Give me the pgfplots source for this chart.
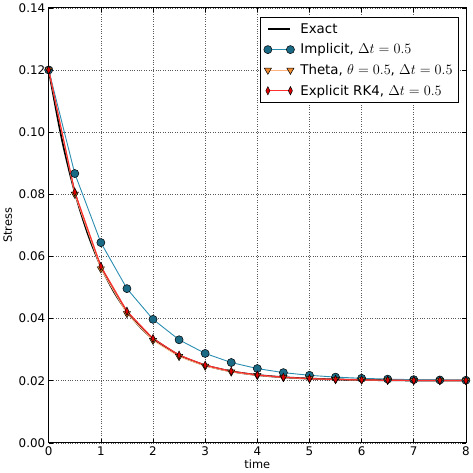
\documentclass[border=0pt]{standalone}
\usepackage{pgfplots}
\pgfplotsset{compat=1.18}
\usepackage{fontspec}
\setmainfont{DejaVu Sans}
\definecolor{impface}{HTML}{1A6985}
\definecolor{impline}{HTML}{2A8DB0}
\definecolor{thface}{HTML}{F0892E}
\definecolor{thline}{HTML}{FFB380}
\definecolor{rkface}{HTML}{E00000}
\definecolor{rkline}{HTML}{FF3030}
\begin{document}
\begin{tikzpicture}
\begin{axis}[
  scale only axis,
  width=421pt, height=439pt,
  xmin=0, xmax=8, ymin=0, ymax=0.14,
  xtick={0,1,...,8},
  ytick={0,0.02,0.04,0.06,0.08,0.10,0.12,0.14},
  yticklabel style={/pgf/number format/.cd,fixed,fixed zerofill,precision=2},
  /pgf/number format/assume math mode=true,
  tick label style={font=\fontsize{12}{14}\selectfont},
  label style={font=\fontsize{11.5}{13}\selectfont},
  xlabel={time}, ylabel={Stress},
  xlabel style={yshift=2pt},
  ylabel style={yshift=0pt},
  grid=major,
  grid style={dotted, gray!70!black, line width=0.6pt},
  tick align=inside,
  major tick length=4pt,
  tick style={black, line width=0.6pt},
  axis line style={line width=0.8pt},
  legend style={font=\fontsize{13.5}{16}\selectfont, draw=black, line width=0.6pt, inner sep=4pt, row sep=5pt, at={(0.983,0.978)}, anchor=north east},
  legend cell align=left,
  legend image code/.code={\draw[#1] plot coordinates {(0cm,0cm) (0.8cm,0cm)}; \path (-0.1cm,0cm) (1.05cm,0cm);},
]
\addplot[black, line width=1.8pt, smooth] coordinates {
(0,0.12) (0.25,0.09788) (0.5,0.080653) (0.75,0.067237) (1,0.056788) (1.25,0.04865) (1.5,0.042313) (1.75,0.037377) (2,0.033534) (2.5,0.028209) (3,0.024979) (3.5,0.02302) (4,0.021832) (4.5,0.021111) (5,0.020674) (5.5,0.020409) (6,0.020248) (7,0.020091) (8,0.020034)};
\addlegendentry{Exact}
\addplot[impline, line width=0.9pt, mark=*, mark size=4.1pt, mark options={fill=impface, draw=black, line width=0.5pt}] coordinates {
(0,0.12) (0.5,0.086667) (1,0.064444) (1.5,0.04963) (2,0.039753) (2.5,0.033169) (3,0.028779) (3.5,0.025853) (4,0.023902) (4.5,0.022601) (5,0.021734) (5.5,0.021156) (6,0.020771) (6.5,0.020514) (7,0.020343) (7.5,0.020228) (8,0.020152)};
\addlegendentry{Implicit, $\Delta t=0.5$}
\addplot[thline, line width=0.9pt, mark=triangle*, mark size=4.2pt, mark options={fill=thface, draw=black, line width=0.5pt, rotate=180}] coordinates {
(0,0.12) (0.5,0.08) (1,0.056) (1.5,0.0416) (2,0.03296) (2.5,0.027776) (3,0.024666) (3.5,0.022799) (4,0.02168) (4.5,0.021008) (5,0.020605) (5.5,0.020363) (6,0.020218) (6.5,0.020131) (7,0.020078) (7.5,0.020047) (8,0.020028)};
\addlegendentry{Theta, $\theta=0.5$, $\Delta t=0.5$}
\addplot[rkline, line width=1.2pt, mark=diamond*, mark size=4.2pt, mark options={fill=rkface, draw=black, line width=0.5pt, xscale=0.65}] coordinates {
(0,0.12) (0.5,0.080677) (1,0.056817) (1.5,0.04234) (2,0.033555) (2.5,0.028225) (3,0.024991) (3.5,0.023028) (4,0.021837) (4.5,0.021115) (5,0.020676) (5.5,0.02041) (6,0.020249) (6.5,0.020151) (7,0.020092) (7.5,0.020056) (8,0.020034)};
\addlegendentry{Explicit RK4, $\Delta t=0.5$}
\end{axis}
\end{tikzpicture}
\end{document}
